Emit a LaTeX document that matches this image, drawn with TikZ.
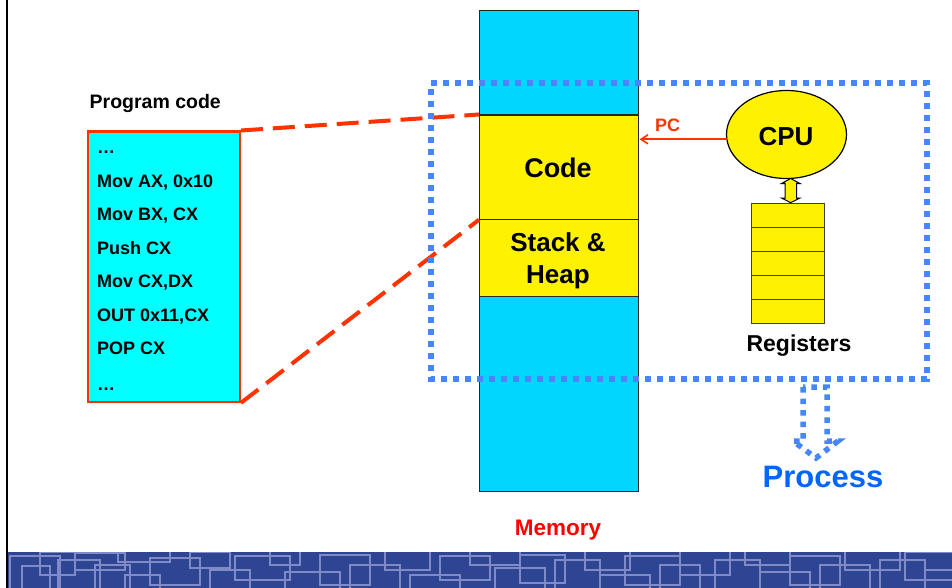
\documentclass[tikz,border=0pt]{standalone}
\usepackage{fontspec}
\setmainfont{Liberation Sans}
\usetikzlibrary{arrows.meta,shapes.geometric}

\definecolor{memcyan}{RGB}{0,214,255}
\definecolor{codecyan}{RGB}{0,255,255}
\definecolor{hotred}{RGB}{255,51,0}
\definecolor{dotblue}{RGB}{70,134,248}
\definecolor{procblue}{RGB}{0,102,255}
\definecolor{bandblue}{RGB}{46,69,147}
\definecolor{bandline}{RGB}{128,138,198}

\newcommand{\fs}[1]{\fontsize{#1}{#1}\selectfont\bfseries}

\tikzset{
  memblock/.style={draw=black!85, line width=1.2pt, fill=yellow},
  codeline/.style={anchor=base west, inner sep=0pt, font=\fs{18}},
  linkline/.style={draw=hotred, line width=4pt, dash pattern=on 22pt off 10pt},
  procframe/.style={draw=dotblue, line width=6pt, dash pattern=on 6pt off 6pt},
  procarrow/.style={draw=dotblue, line width=5.5pt, dash pattern=on 5.5pt off 6pt},
  bigtext/.style={inner sep=0pt, anchor=base}
}

\begin{document}
\begin{tikzpicture}[x=1pt,y=-1pt]
\useasboundingbox (0,0) rectangle (952,588);
\fill[white] (0,0) rectangle (952,588);

% decorative band along the bottom
\begin{scope}
  \clip (8,552) rectangle (952,588);
  \fill[bandblue] (0,552) rectangle (952,588);
  \foreach \a/\b/\c/\d in {
    10/556/60/600, 22/566/50/590, 40/552/75/575, 58/560/100/590,
    75/553/125/570, 95/565/130/600, 118/548/170/562, 125/575/160/600,
    150/558/200/585, 190/552/230/568, 210/570/250/600, 235/556/290/580,
    270/548/300/565, 285/572/340/600, 320/555/370/585, 350/565/400/600,
    385/550/430/570, 410/575/460/600, 440/556/490/580, 470/548/520/565,
    495/568/545/600, 520/555/565/583, 555/560/600/590, 585/550/630/570,
    600/575/650/600, 625/556/680/585, 660/565/700/600, 680/550/730/575,
    715/560/760/590, 745/548/790/565, 760/572/810/600, 790/556/840/585,
    820/565/870/600, 845/550/900/570, 880/560/925/590, 905/552/960/580,
    925/570/960/600}
    \draw[bandline, line width=1.6pt] (\a,\b) rectangle (\c,\d);
\end{scope}

% left margin rule
\draw[black, line width=1.8pt] (7,0) -- (7,588);

% memory column
\node[draw=black!85, line width=1.2pt, fill=memcyan, minimum width=159pt,
      minimum height=481pt, inner sep=0pt, anchor=north west] (mem) at (479,10) {};
\node[memblock, minimum width=159pt, minimum height=104pt, inner sep=0pt,
      anchor=north west] (code) at (479,114.5) {};
\node[memblock, minimum width=159pt, minimum height=77pt, inner sep=0pt,
      anchor=north west] (heap) at (479,218.5) {};
\node[bigtext, font=\fs{27}] (codetxt) at (558,178) {Code};
\node[bigtext, font=\fs{26}] (stacktxt) at (558,251.5) {Stack \&};
\node[bigtext, font=\fs{26}] (heaptxt) at (558,283) {Heap};
\node[bigtext, font=\fs{22.5}, text=red] (memlabel) at (558,535) {Memory};

% program listing
\node[anchor=base west, inner sep=0pt, font=\fs{19.5}] (proglabel) at (89.5,108.5) {Program code};
\node[draw=hotred, line width=2.4pt, fill=codecyan, minimum width=152pt,
      minimum height=270pt, inner sep=0pt, anchor=north west] (prog) at (86.5,130.5) {};
\node[codeline] (l0) at (97,154) {\dots};
\node[codeline] (l1) at (97,187.5) {Mov AX, 0x10};
\node[codeline] (l2) at (97,220.5) {Mov BX, CX};
\node[codeline] (l3) at (97,254.5) {Push CX};
\node[codeline] (l4) at (97,287.5) {Mov CX,DX};
\node[codeline] (l5) at (97,321.5) {OUT 0x11,CX};
\node[codeline] (l6) at (97,354.5) {POP CX};
\node[codeline] (l7) at (97,390) {\dots};

% links from the listing to the code segment
\draw[linkline] (prog.north east) -- (code.north west);
\draw[linkline] (prog.south east) -- (code.south west);

% process boundary
\draw[procframe] (431,83) -- (927,83) -- (927,379) -- (431,379) -- cycle;

% CPU and registers
\node[draw=black, line width=1.2pt, fill=yellow, ellipse, minimum width=120pt,
      minimum height=88pt, inner sep=0pt] (cpu) at (786.5,134.5) {};
\node[bigtext, font=\fs{26}] (cputxt) at (786,145.5) {CPU};
\coordinate (pcend) at (639.5,139.3);
\draw[hotred, line width=1.6pt, -{Straight Barb[length=7pt, width=9pt]}]
  (726.5,139.3) -- (pcend);
\node[bigtext, font=\fs{18}, text=hotred] (pctxt) at (667.5,131.5) {PC};

\foreach \i in {0,...,4} {
  \node[draw=black!75, line width=1.2pt, fill=yellow, minimum width=72.5pt,
        minimum height=24pt, inner sep=0pt, anchor=north west] (reg\i)
        at (751,{202.7+24*\i}) {};
}
\draw[black, line width=1pt, fill=yellow]
  (790.7,178.5) -- (800,183.5) -- (796.5,183.5) -- (796.5,198) -- (800,198)
  -- (790.7,202.7) -- (781.5,198) -- (785,198) -- (785,183.5) -- (781.5,183.5)
  -- cycle;
\node[bigtext, font=\fs{23}] (regtxt) at (799,351.5) {Registers};

% process arrow
\draw[procarrow] (803,387) -- (803,441) -- (793,441) -- (816,458)
  -- (838,441) -- (827,441) -- (827,387) -- cycle;
\node[bigtext, font=\fs{31}, text=procblue] (proctxt) at (823,487.5) {Process};
\end{tikzpicture}
\end{document}
